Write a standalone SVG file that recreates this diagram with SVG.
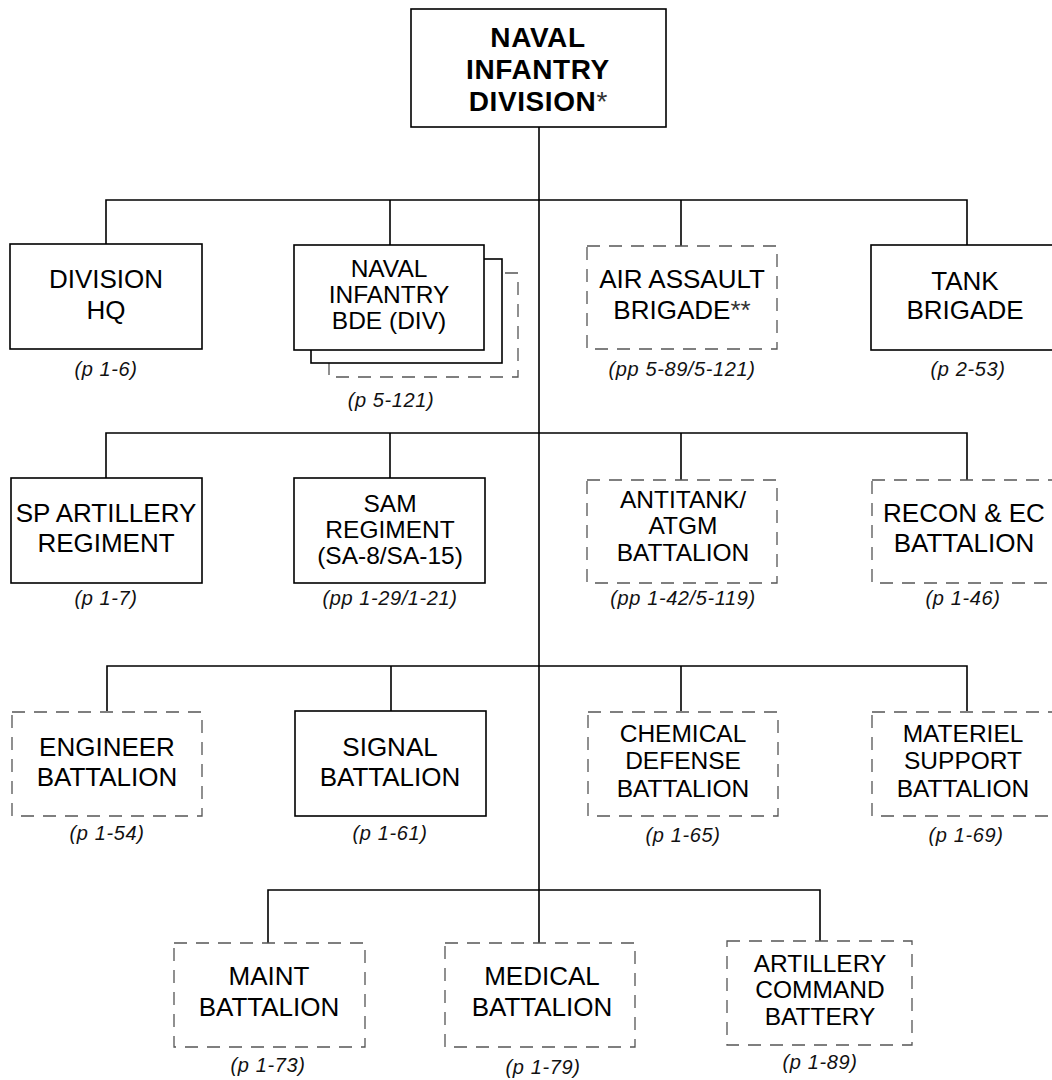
<svg xmlns="http://www.w3.org/2000/svg" width="1052" height="1080" viewBox="0 0 1052 1080">
<style>
.box{fill:#fff;stroke:#000;stroke-width:1.6}
.dbox{fill:#fff;stroke:#555;stroke-width:1.3;stroke-dasharray:13 9}
.conn{fill:none;stroke:#000;stroke-width:1.6}
text{font-family:"Liberation Sans",Arial,sans-serif;text-anchor:middle;fill:#000}
.t{font-size:26px}
.t3{font-size:24.5px}
.tb{font-size:28px;font-weight:bold;letter-spacing:0.6px}
.ast{font-weight:normal;fill:#333;letter-spacing:0}
.lbl{font-size:20px;font-style:italic;letter-spacing:0.6px;fill:#111}
</style>
<rect width="1052" height="1080" fill="#fff"/>
<g id="connectors">
<path class="conn" d="M539 127V943"/>
<path class="conn" d="M106 244V200H967V245M390 200V245M681 200V246"/>
<path class="conn" d="M106 478V433H967V480M390 433V478M681 433V480"/>
<path class="conn" d="M107 711V666H967V711M391 666V711M681 666V711"/>
<path class="conn" d="M268 943V890H820V943"/>
</g>
<g id="naval-infantry-division">
<rect class="box" x="411" y="9" width="255" height="118"/>
<text class="tb" x="538" y="47">NAVAL</text>
<text class="tb" x="538" y="79">INFANTRY</text>
<text class="tb" x="538" y="111">DIVISION<tspan class="ast">*</tspan></text>
</g>
<g id="division-hq">
<rect class="box" x="10" y="244" width="192" height="105"/>
<text class="t" x="106" y="288">DIVISION</text>
<text class="t" x="106" y="319">HQ</text>
<text class="lbl" x="106" y="376">(p 1-6)</text>
</g>
<g id="naval-infantry-bde">
<rect class="dbox" x="329" y="273" width="189" height="104"/>
<rect class="box" x="311" y="259" width="191" height="104"/>
<rect class="box" x="294" y="245" width="190" height="105"/>
<text class="t3" x="389" y="277">NAVAL</text>
<text class="t3" x="389" y="303">INFANTRY</text>
<text class="t3" x="389" y="329">BDE (DIV)</text>
<text class="lbl" x="391" y="407">(p 5-121)</text>
</g>
<g id="air-assault-brigade">
<rect class="dbox" x="587" y="246" width="190" height="103"/>
<text class="t" x="682" y="288">AIR ASSAULT</text>
<text class="t" x="682" y="319">BRIGADE<tspan fill="#333">**</tspan></text>
<text class="lbl" x="682" y="376">(pp 5-89/5-121)</text>
</g>
<g id="tank-brigade">
<rect class="box" x="871" y="245" width="192" height="105"/>
<text class="t" x="965" y="290">TANK</text>
<text class="t" x="965" y="319">BRIGADE</text>
<text class="lbl" x="968" y="376">(p 2-53)</text>
</g>
<g id="sp-artillery-regiment">
<rect class="box" x="11" y="478" width="191" height="105"/>
<text class="t" x="106" y="522">SP ARTILLERY</text>
<text class="t" x="106" y="552">REGIMENT</text>
<text class="lbl" x="106" y="605">(p 1-7)</text>
</g>
<g id="sam-regiment">
<rect class="box" x="294" y="478" width="191" height="105"/>
<text class="t3" x="390" y="512">SAM</text>
<text class="t3" x="390" y="538">REGIMENT</text>
<text class="t3" x="390" y="564">(SA-8/SA-15)</text>
<text class="lbl" x="390" y="605">(pp 1-29/1-21)</text>
</g>
<g id="antitank-atgm-battalion">
<rect class="dbox" x="587" y="480" width="190" height="103"/>
<text class="t3" x="683" y="508">ANTITANK/</text>
<text class="t3" x="683" y="534">ATGM</text>
<text class="t3" x="683" y="561">BATTALION</text>
<text class="lbl" x="683" y="605">(pp 1-42/5-119)</text>
</g>
<g id="recon-ec-battalion">
<rect class="dbox" x="872" y="480" width="190" height="103"/>
<text class="t" x="964" y="522">RECON &amp; EC</text>
<text class="t" x="964" y="552">BATTALION</text>
<text class="lbl" x="963" y="605">(p 1-46)</text>
</g>
<g id="engineer-battalion">
<rect class="dbox" x="12" y="712" width="190" height="104"/>
<text class="t" x="107" y="756">ENGINEER</text>
<text class="t" x="107" y="786">BATTALION</text>
<text class="lbl" x="107" y="840">(p 1-54)</text>
</g>
<g id="signal-battalion">
<rect class="box" x="295" y="711" width="191" height="105"/>
<text class="t" x="390" y="756">SIGNAL</text>
<text class="t" x="390" y="786">BATTALION</text>
<text class="lbl" x="390" y="840">(p 1-61)</text>
</g>
<g id="chemical-defense-battalion">
<rect class="dbox" x="588" y="712" width="190" height="104"/>
<text class="t3" x="683" y="742">CHEMICAL</text>
<text class="t3" x="683" y="769">DEFENSE</text>
<text class="t3" x="683" y="797">BATTALION</text>
<text class="lbl" x="683" y="842">(p 1-65)</text>
</g>
<g id="materiel-support-battalion">
<rect class="dbox" x="872" y="712" width="190" height="104"/>
<text class="t3" x="963" y="742">MATERIEL</text>
<text class="t3" x="963" y="769">SUPPORT</text>
<text class="t3" x="963" y="797">BATTALION</text>
<text class="lbl" x="966" y="842">(p 1-69)</text>
</g>
<g id="maint-battalion">
<rect class="dbox" x="174" y="943" width="191" height="104"/>
<text class="t" x="269" y="985">MAINT</text>
<text class="t" x="269" y="1016">BATTALION</text>
<text class="lbl" x="268" y="1072">(p 1-73)</text>
</g>
<g id="medical-battalion">
<rect class="dbox" x="445" y="943" width="190" height="104"/>
<text class="t" x="542" y="985">MEDICAL</text>
<text class="t" x="542" y="1016">BATTALION</text>
<text class="lbl" x="543" y="1074">(p 1-79)</text>
</g>
<g id="artillery-command-battery">
<rect class="dbox" x="727" y="941" width="185" height="104"/>
<text class="t3" x="820" y="972">ARTILLERY</text>
<text class="t3" x="820" y="998">COMMAND</text>
<text class="t3" x="820" y="1025">BATTERY</text>
<text class="lbl" x="820" y="1069">(p 1-89)</text>
</g>
</svg>
